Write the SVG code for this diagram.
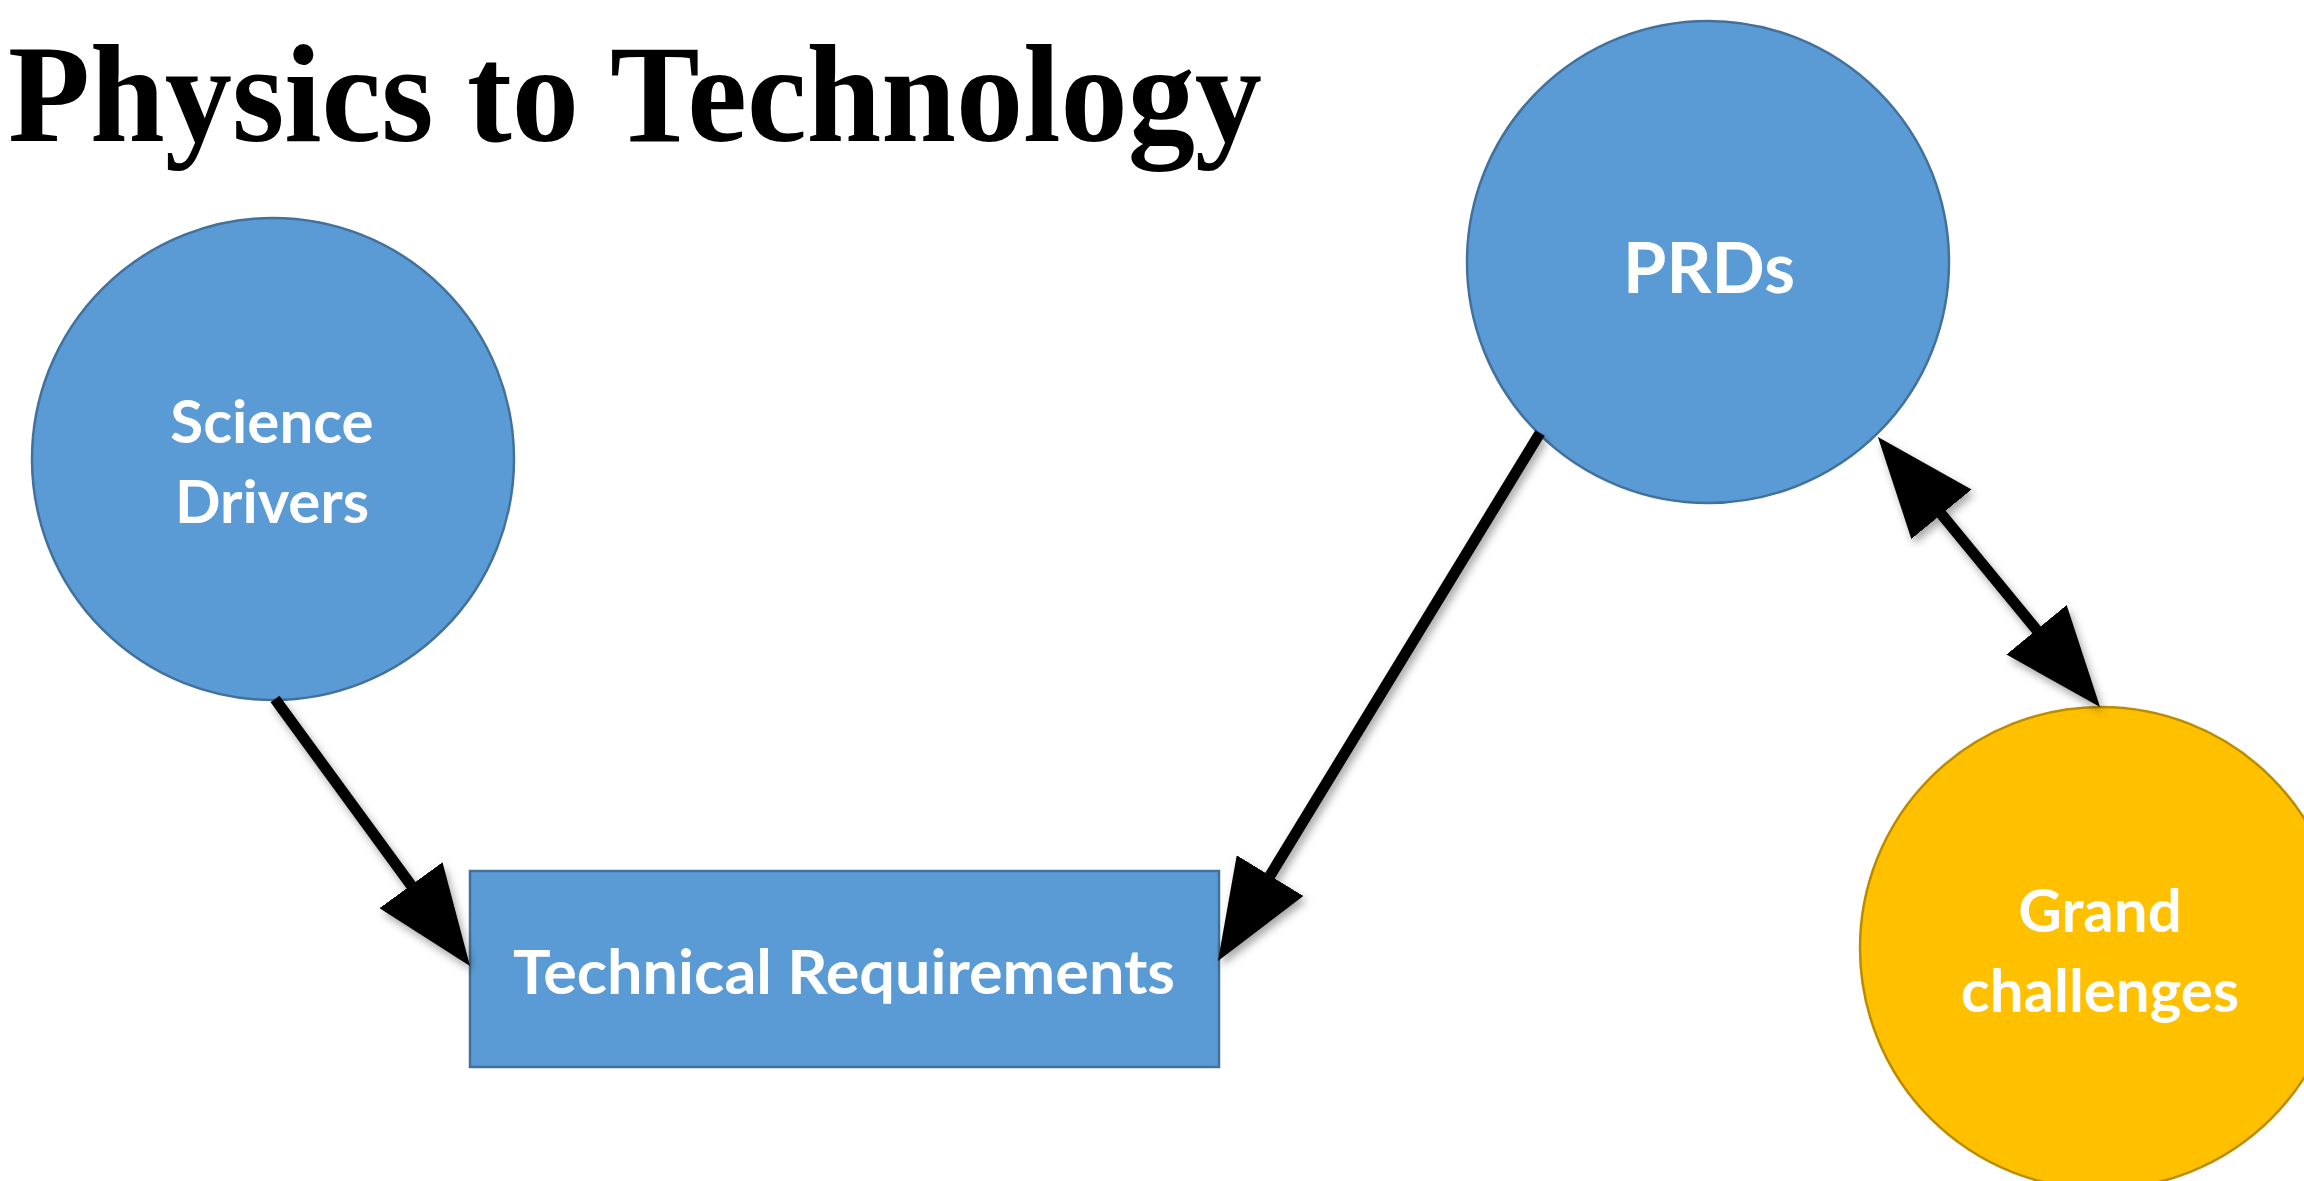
<svg xmlns="http://www.w3.org/2000/svg" width="2304" height="1181" viewBox="0 0 2304 1181">
<style>
.blue{fill:#5B9BD5;stroke:#41719C;stroke-width:2.5}
.gold{fill:#FFC000;stroke:#BC8C00;stroke-width:2.5}
.lbl{font-family:Lato,"Open Sans","Liberation Sans",sans-serif;font-weight:700;fill:#FFFFFF;text-anchor:middle}
.title{font-family:"Liberation Serif","DejaVu Serif",serif;font-weight:700;fill:#000000}
.conn{stroke:#000000;stroke-width:11;fill:none}
</style>
<defs>
<marker id="head" markerUnits="userSpaceOnUse" viewBox="0 0 100 78" markerWidth="100" markerHeight="78" refX="50" refY="39" orient="auto-start-reverse">
<path d="M0,0 L100,39 L0,78 Z" fill="#000000"/>
</marker>
<filter id="shadow" x="-20%" y="-20%" width="140%" height="140%">
<feDropShadow dx="3" dy="5" stdDeviation="4" flood-color="#000000" flood-opacity="0.35"/>
</filter>
</defs>
<rect width="2304" height="1181" fill="#FFFFFF"/>
<text class="title" x="8" y="141" font-size="140" textLength="1254" lengthAdjust="spacingAndGlyphs">Physics to Technology</text>
<g id="science-drivers">
<circle class="blue" cx="273" cy="459" r="241"/>
<text class="lbl" x="272" y="443" font-size="60">Science</text>
<text class="lbl" x="272" y="523" font-size="60">Drivers</text>
</g>
<g id="prds">
<circle class="blue" cx="1708" cy="262" r="241"/>
<text class="lbl" x="1709" y="293" font-size="70">PRDs</text>
</g>
<g id="grand-challenges">
<circle class="gold" cx="2101" cy="948" r="241"/>
<text class="lbl" x="2100" y="932" font-size="60">Grand</text>
<text class="lbl" x="2100" y="1012" font-size="60">challenges</text>
</g>
<g id="technical-requirements">
<rect class="blue" x="470" y="871" width="749" height="196"/>
<text class="lbl" x="844" y="994" font-size="61" textLength="662" lengthAdjust="spacingAndGlyphs">Technical Requirements</text>
</g>
<g id="connectors" filter="url(#shadow)">
<line class="conn" x1="275" y1="699" x2="440.5" y2="925.6" marker-end="url(#head)"/>
<line class="conn" x1="1540" y1="433" x2="1244" y2="918.3" marker-end="url(#head)"/>
<line class="conn" x1="1909.7" y1="475.6" x2="2068.3" y2="668.4" marker-start="url(#head)" marker-end="url(#head)"/>
</g>
</svg>
